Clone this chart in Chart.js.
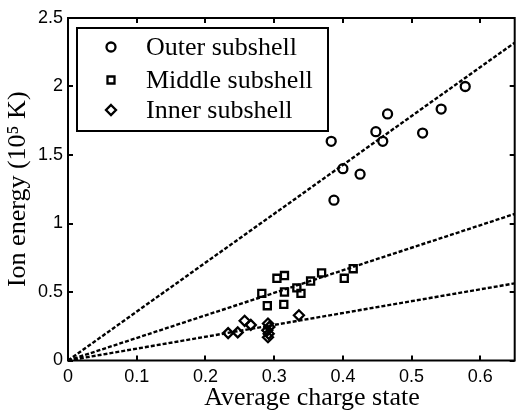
<!DOCTYPE html>
<html>
<head>
<meta charset="utf-8">
<script src="https://cdn.jsdelivr.net/npm/chart.js@4/dist/chart.umd.min.js"></script>
<style>
    html, body { margin: 0; padding: 0; background: #fff; }
    canvas { display: block; }
</style>
</head>
<body>
<canvas id="grafico" width="522" height="410"></canvas>
<script>
// dados
const nomesSeries = ['Outer subshell', 'Middle subshell', 'Inner subshell'];

const externaX = [0.383, 0.387, 0.400, 0.425, 0.448, 0.458, 0.465, 0.516, 0.543, 0.578];
const externaY = [1.60, 1.17, 1.40, 1.36, 1.67, 1.60, 1.80, 1.66, 1.835, 2.00];

const mediaX = [0.282, 0.290, 0.304, 0.314, 0.315, 0.315, 0.333, 0.339, 0.353, 0.369, 0.402, 0.415];
const mediaY = [0.49, 0.40, 0.60, 0.41, 0.62, 0.50, 0.53, 0.49, 0.58, 0.64, 0.60, 0.67];

const internaX = [0.233, 0.247, 0.257, 0.266, 0.291, 0.293, 0.290, 0.292, 0.291, 0.336];
const internaY = [0.20, 0.205, 0.29, 0.26, 0.27, 0.245, 0.22, 0.195, 0.17, 0.33];

// retas de ajuste: começam em (0, 0) e terminam na borda direita
const retaX = [0, 0.65];
const fimRetas = [2.32, 1.07, 0.563];

const ticksX = [0, 0.1, 0.2, 0.3, 0.4, 0.5, 0.6];
const ticksY = [0, 0.5, 1, 1.5, 2, 2.5];

const tituloX = 'Average charge state';
const tituloY = 'Ion energy (10\u2075 K)';

const fonteSerif = "'Liberation Serif', 'DejaVu Serif', serif";
const fonteSans = "'Liberation Sans', Arial, sans-serif";

function juntarPontos(xs, ys) {
    return xs.map(function (x, i) { return { x: x, y: ys[i] }; });
}

function pontosReta(fim) {
    return [{ x: retaX[0], y: 0 }, { x: retaX[1], y: fim }];
}

function conjuntoPontos(label, dados, estilo, raio) {
    return {
        type: 'scatter',
        label: label,
        data: dados,
        pointStyle: estilo,
        pointRadius: raio,
        pointBorderWidth: 2.3,
        borderColor: '#000',
        backgroundColor: 'rgba(0,0,0,0)',
        showLine: false
    };
}

function conjuntoReta(fim) {
    return {
        type: 'line',
        label: '',
        data: pontosReta(fim),
        borderColor: '#000',
        borderWidth: 2.4,
        borderDash: [4, 2],
        pointRadius: 0,
        fill: false
    };
}

// desenha um marcador da legenda
function desenharMarcador(ctx, estilo, x, y) {
    ctx.beginPath();
    if (estilo === 'circle') {
        ctx.arc(x, y, 4.5, 0, Math.PI * 2);
    } else if (estilo === 'rect') {
        ctx.rect(x - 3.5, y - 3.5, 7, 7);
    } else {
        ctx.moveTo(x, y - 5);
        ctx.lineTo(x + 5, y);
        ctx.lineTo(x, y + 5);
        ctx.lineTo(x - 5, y);
        ctx.closePath();
    }
    ctx.stroke();
}

// moldura, ticks internos, título do eixo x e legenda
const pluginMoldura = {
    id: 'moldura',
    afterDraw: function (chart) {
        const ctx = chart.ctx;
        const area = chart.chartArea;
        const sx = chart.scales.x;
        const sy = chart.scales.y;
        ctx.save();
        ctx.strokeStyle = '#000';
        ctx.lineWidth = 2;
        ctx.setLineDash([]);
        ctx.strokeRect(area.left, area.top, area.right - area.left, area.bottom - area.top);

        ctx.beginPath();
        ticksX.forEach(function (v) {
            const px = Math.round(sx.getPixelForValue(v));
            ctx.moveTo(px, area.bottom);
            ctx.lineTo(px, area.bottom - 5);
            ctx.moveTo(px, area.top);
            ctx.lineTo(px, area.top + 5);
        });
        ticksY.forEach(function (v) {
            const py = Math.round(sy.getPixelForValue(v));
            ctx.moveTo(area.left, py);
            ctx.lineTo(area.left + 5, py);
            ctx.moveTo(area.right, py);
            ctx.lineTo(area.right - 5, py);
        });
        ctx.stroke();

        // título do eixo x (no original fica um pouco à direita do centro)
        ctx.fillStyle = '#000';
        ctx.font = '26px ' + fonteSerif;
        ctx.textAlign = 'center';
        ctx.textBaseline = 'middle';
        ctx.fillText(tituloX, sx.getPixelForValue(0.355), 398);

        // legenda dentro do gráfico
        const lx = area.left + 9;
        const ly = area.top + 10;
        ctx.fillStyle = '#fff';
        ctx.fillRect(lx, ly, 251, 103);
        ctx.strokeRect(lx, ly, 251, 103);

        const estilos = ['circle', 'rect', 'rectRot'];
        const linhas = [29, 62, 92];
        ctx.lineWidth = 2.3;
        ctx.textAlign = 'left';
        ctx.fillStyle = '#000';
        nomesSeries.forEach(function (nome, i) {
            const y = area.top + linhas[i];
            desenharMarcador(ctx, estilos[i], area.left + 43, y);
            ctx.fillText(nome, area.left + 78, y + 1);
        });
        ctx.restore();
    }
};

const ctx = document.getElementById('grafico').getContext('2d');

new Chart(ctx, {
    data: {
        datasets: [
            conjuntoReta(fimRetas[0]),
            conjuntoReta(fimRetas[1]),
            conjuntoReta(fimRetas[2]),
            conjuntoPontos(nomesSeries[0], juntarPontos(externaX, externaY), 'circle', 4.5),
            conjuntoPontos(nomesSeries[1], juntarPontos(mediaX, mediaY), 'rect', 5),
            conjuntoPontos(nomesSeries[2], juntarPontos(internaX, internaY), 'rectRot', 5)
        ]
    },
    options: {
        responsive: false,
        devicePixelRatio: 1,
        animation: false,
        layout: {
            padding: { top: 18, right: 1, left: 0, bottom: 0 }
        },
        plugins: {
            legend: { display: false },
            tooltip: { enabled: false }
        },
        scales: {
            x: {
                type: 'linear',
                min: 0,
                max: 0.65,
                grid: { display: false, drawTicks: false },
                border: { display: false },
                ticks: {
                    stepSize: 0.1,
                    includeBounds: false,
                    padding: 6,
                    color: '#000',
                    font: { family: fonteSans, size: 18 },
                    maxRotation: 0,
                    callback: function (v) { return String(Math.round(v * 10) / 10); }
                },
                title: { display: false },
                afterFit: function (escala) { escala.height = 49.5; }
            },
            y: {
                type: 'linear',
                min: 0,
                max: 2.5,
                grid: { display: false, drawTicks: false },
                border: { display: false },
                ticks: {
                    stepSize: 0.5,
                    padding: 5,
                    color: '#000',
                    font: { family: fonteSans, size: 18 },
                    callback: function (v) { return String(Math.round(v * 10) / 10); }
                },
                title: {
                    display: true,
                    text: tituloY,
                    color: '#000',
                    font: { family: fonteSerif, size: 26, lineHeight: 1 },
                    padding: { top: 5, bottom: 0 }
                },
                afterFit: function (escala) { escala.width = 68; }
            }
        }
    },
    plugins: [pluginMoldura]
});
</script>
</body>
</html>
